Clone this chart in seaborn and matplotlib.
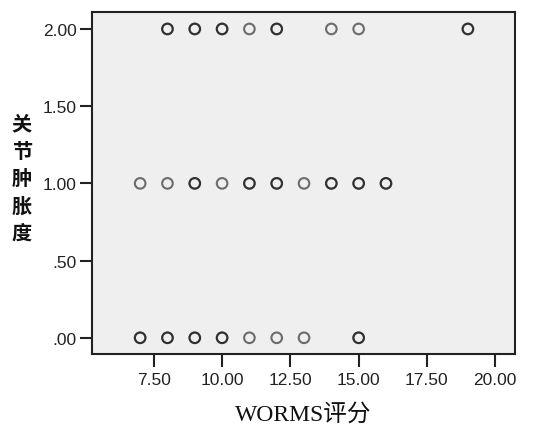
import matplotlib
matplotlib.use("Agg")
import matplotlib.pyplot as plt
import seaborn as sns
import pandas as pd

# WORMS scores observed at each joint-swelling grade (repeated values = overlapping cases)
worms_grade0 = [7, 7, 8, 8, 9, 9, 10, 10, 11, 12, 13, 15, 15]
worms_grade1 = [7, 8, 9, 9, 10, 11, 11, 12, 12, 13, 14, 14, 15, 15, 16, 16]
worms_grade2 = [8, 8, 9, 9, 10, 10, 11, 12, 12, 14, 15, 19, 19]
grades = [0.0, 1.0, 2.0]

x_ticks = [7.5, 10.0, 12.5, 15.0, 17.5, 20.0]
x_tick_labels = ["7.50", "10.00", "12.50", "15.00", "17.50", "20.00"]
y_ticks = [0.0, 0.5, 1.0, 1.5, 2.0]
y_tick_labels = [".00", ".50", "1.00", "1.50", "2.00"]

rows = []
for g, scores in zip(grades, [worms_grade0, worms_grade1, worms_grade2]):
    for s in scores:
        rows.append({"WORMS": s, "swelling": g})
df = pd.DataFrame(rows)

sns.set_style("white")
plt.rcParams["font.family"] = ["Liberation Sans", "Noto Sans CJK SC", "DejaVu Sans"]

fig = plt.figure(figsize=(5.4, 4.27), dpi=100)
ax = fig.add_axes([0.170, 0.1686, 0.784, 0.801])
ax.set_facecolor("#efefef")

sns.scatterplot(data=df, x="WORMS", y="swelling", ax=ax,
                marker="o", s=58, facecolors="none", edgecolor="black",
                linewidth=1.5, alpha=0.55, legend=False)

ax.set_xlim(5.23, 20.73)
ax.set_ylim(-0.105, 2.11)
ax.set_xticks(x_ticks)
ax.set_xticklabels(x_tick_labels)
ax.set_yticks(y_ticks)
ax.set_yticklabels(y_tick_labels)

for sp in ax.spines.values():
    sp.set_visible(True)
    sp.set_color("#222222")
    sp.set_linewidth(1.5)

ax.tick_params(axis="both", which="major", direction="out", length=9, width=1.5,
               color="#222222", labelsize=12.5, labelcolor="#222222", pad=2,
               bottom=True, left=True)
ax.tick_params(axis="x", pad=4)

ax.set_xlabel("")
ax.set_ylabel("")
fig.text(0.561, 0.004, "WORMS评分", ha="center", va="bottom", fontsize=17,
         family=["Liberation Serif", "Noto Sans CJK SC"], color="#111111")
fig.text(0.040, 0.582, "关\n节\n肿\n胀\n度", ha="center", va="center", fontsize=14.5,
         fontweight="bold", family=["Noto Sans CJK SC"], linespacing=1.38,
         color="#111111")

fig.savefig("out.png", dpi=100)
